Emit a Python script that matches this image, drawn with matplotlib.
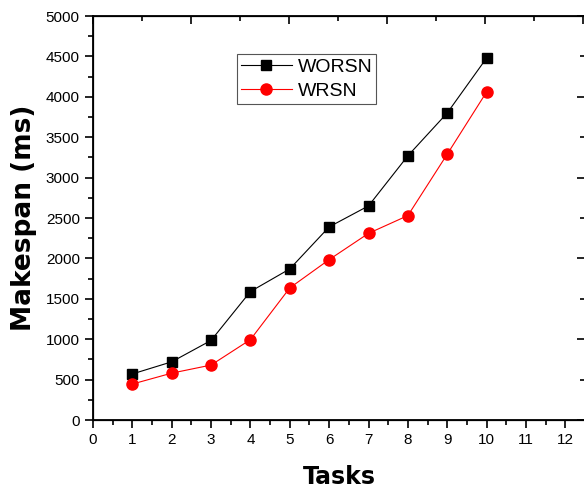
import matplotlib
matplotlib.use('Agg')
import matplotlib.pyplot as plt
from matplotlib.ticker import MultipleLocator

tasks = [1, 2, 3, 4, 5, 6, 7, 8, 9, 10]
worsn = [570, 720, 985, 1590, 1870, 2390, 2650, 3270, 3800, 4480]
wrsn = [445, 580, 680, 995, 1635, 1985, 2310, 2530, 3290, 4060]

plt.rcParams['font.family'] = ['Liberation Sans', 'DejaVu Sans']

fig = plt.figure(figsize=(5.84, 4.9), dpi=100)
ax = fig.add_axes([93 / 584, 70 / 490, 492 / 584, 404 / 490])

ax.plot(tasks, worsn, color='black', lw=0.8, marker='s', ms=7, label='WORSN')
ax.plot(tasks, wrsn, color='red', lw=0.8, marker='o', ms=8, label='WRSN')

ax.set_xlim(0, 12.5)
ax.set_ylim(0, 5000)
ax.xaxis.set_major_locator(MultipleLocator(1))
ax.xaxis.set_minor_locator(MultipleLocator(0.5))
ax.yaxis.set_major_locator(MultipleLocator(500))
ax.yaxis.set_minor_locator(MultipleLocator(250))
ax.tick_params(which='major', direction='out', length=6, width=1.2, labelsize=11)
ax.tick_params(which='minor', direction='out', length=3.5, width=1.2)
for s in ax.spines.values():
    s.set_linewidth(1.3)

# top axis ticks (inward, independent scale)
top = ax.twiny()
top.set_xlim(0, 10.04)
top.xaxis.set_major_locator(MultipleLocator(2))
top.xaxis.set_minor_locator(MultipleLocator(1))
top.tick_params(which='major', direction='in', length=6, width=1.2, labeltop=False)
top.tick_params(which='minor', direction='in', length=3.5, width=1.2)

# right axis ticks (inward)
right = ax.twinx()
right.set_ylim(0, 5000)
right.yaxis.set_major_locator(MultipleLocator(1000))
right.yaxis.set_minor_locator(MultipleLocator(500))
right.tick_params(which='major', direction='in', length=6, width=1.2, labelright=False)
right.tick_params(which='minor', direction='in', length=3.5, width=1.2)

ax.set_xlabel('Tasks', fontsize=17, fontweight='bold', family='DejaVu Sans', labelpad=13)
ax.set_ylabel('Makespan (ms)', fontsize=19, fontweight='bold', family='DejaVu Sans', labelpad=6)

leg = ax.legend(loc='upper left', bbox_to_anchor=(0.293, 0.905), fontsize=14,
                fancybox=False, edgecolor='#555555', framealpha=1,
                handlelength=2.6, borderpad=0.2, labelspacing=0.35, handletextpad=0.3,
                borderaxespad=0)
leg.get_frame().set_linewidth(0.8)

fig.savefig('out.png', dpi=100)
